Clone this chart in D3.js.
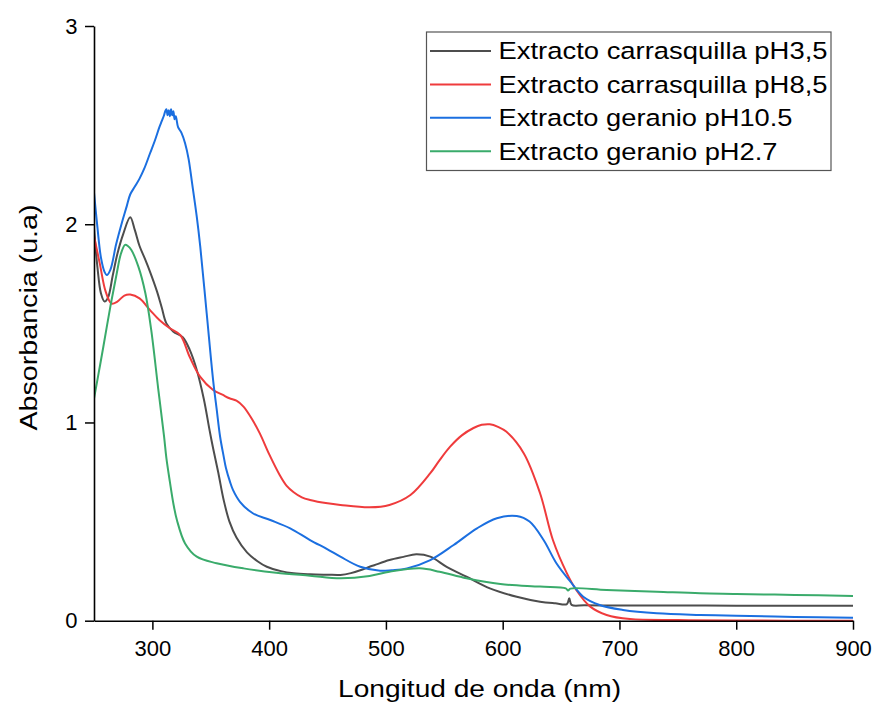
<!DOCTYPE html>
<html>
<head>
<meta charset="utf-8">
<script src="https://cdn.jsdelivr.net/npm/d3@7"></script>
<style>
  html, body { margin: 0; padding: 0; background: #fff; }
  svg { display: block; }
  text { font-family: "Liberation Sans", Arial, sans-serif; fill: #000; }
</style>
</head>
<body>
<svg id="chart" width="876" height="702"></svg>
<script>
// ---------- data ----------
const seriesNames = [
  "Extracto carrasquilla pH3,5",
  "Extracto carrasquilla pH8,5",
  "Extracto geranio pH10.5",
  "Extracto geranio pH2.7"
];
const seriesColors = ["#4d4d4d", "#ef3b3c", "#1b6fe0", "#3aab6b"];

const carr35X = [250,253,256,259,262,266,270,275,281,285,289,294,298,304,308,312,318,326,332,338,344,349,352,356.5,361,366,372,381,390,398,410,421,435,450,461,470,480,486,490,503,515,526,538,552,569,589,612,632,645,655,657,659,670,700,750,800,850,900];
const carr35Y = [1.98,1.78,1.65,1.61,1.63,1.74,1.85,1.95,2.035,1.97,1.89,1.82,1.76,1.66,1.58,1.50,1.458,1.43,1.366,1.265,1.12,0.96,0.87,0.745,0.61,0.50,0.42,0.345,0.30,0.272,0.25,0.239,0.234,0.232,0.231,0.24,0.258,0.272,0.28,0.306,0.322,0.335,0.323,0.272,0.222,0.163,0.121,0.096,0.088,0.084,0.113,0.08,0.078,0.077,0.077,0.076,0.076,0.076];

const carr85X = [250,255,260,265,270,276,281,289,298,306,315,324,332,341,352,360,366,372,378,385,392,400,409,415,421,428,435,450,461,486,503,521,538,546,555,565,575,582,589,596,603,618,632,643,655,663,675,689,709,750,800,900];
const carr85Y = [1.94,1.80,1.66,1.60,1.61,1.64,1.645,1.626,1.567,1.517,1.475,1.44,1.33,1.23,1.164,1.14,1.122,1.11,1.08,1.02,0.945,0.84,0.735,0.68,0.648,0.622,0.609,0.592,0.584,0.572,0.584,0.634,0.744,0.81,0.878,0.935,0.972,0.988,0.991,0.978,0.954,0.845,0.643,0.407,0.239,0.155,0.071,0.029,0.008,0.003,0.001,0.0];

const ger105X = [250,253,256,259,261,264,269,274,278,281,285,289,293,298,302,306,308,310,311,312,313,314,315,316,317,318,319,320,322,325,328,331,334,338,341,346.5,352,355,358,361,363,366.5,369,375,386,401,418,435,450,461,478,495,505,518,538,558,578,595,612,623,635,646,658,669,683,703,732,769,800,850,900];
const ger105Y = [2.16,1.98,1.83,1.76,1.744,1.77,1.90,2.01,2.09,2.15,2.19,2.23,2.28,2.358,2.42,2.49,2.52,2.55,2.57,2.58,2.55,2.575,2.545,2.58,2.55,2.57,2.53,2.545,2.49,2.46,2.409,2.33,2.207,2.038,1.887,1.551,1.214,1.07,0.928,0.83,0.77,0.70,0.66,0.60,0.542,0.508,0.466,0.407,0.36,0.323,0.272,0.252,0.255,0.264,0.306,0.382,0.466,0.517,0.528,0.50,0.407,0.29,0.197,0.121,0.079,0.054,0.037,0.029,0.025,0.019,0.015];

const ger27X = [250,254,258,264,269.5,273,276.6,279,282,288,294,299,305,310,312,315,318,321,328,338,355,378,406,435,461,486,503,529,546,569,598,632,654,656,658,689,732,769,800,850,900];
const ger27Y = [1.12,1.25,1.382,1.584,1.753,1.85,1.896,1.89,1.87,1.786,1.652,1.467,1.17,0.93,0.82,0.70,0.59,0.508,0.39,0.323,0.29,0.264,0.242,0.227,0.214,0.2255,0.247,0.264,0.247,0.214,0.185,0.172,0.163,0.152,0.162,0.155,0.146,0.138,0.135,0.13,0.125];

const xMajorTicks = [300,400,500,600,700,800,900];
const xMinorTicks = [250,350,450,550,650,750,850];
const yMajorTicks = [0,1,2,3];
const yMinorTicks = [0.5,1.5,2.5];
const xTitle = "Longitud de onda (nm)";
const yTitle = "Absorbancia (u.a)";

// ---------- chart ----------
const svg = d3.select("#chart");
const x = d3.scaleLinear().domain([250, 900]).range([94, 853]);
const y = d3.scaleLinear().domain([0, 3]).range([620.7, 26]);

svg.append("defs").append("clipPath").attr("id", "plotclip")
  .append("rect").attr("x", 94).attr("y", 20).attr("width", 760).attr("height", 601);

const series = [
  {xs: carr35X, ys: carr35Y},
  {xs: carr85X, ys: carr85Y},
  {xs: ger105X, ys: ger105Y},
  {xs: ger27X, ys: ger27Y}
];

const line = d3.line()
  .x(d => x(d[0]))
  .y(d => y(d[1]))
  .curve(d3.curveCatmullRom.alpha(0.5));

const plot = svg.append("g").attr("clip-path", "url(#plotclip)");
series.forEach((s, i) => {
  const pts = s.xs.map((v, k) => [v, s.ys[k]]);
  plot.append("path")
    .datum(pts)
    .attr("fill", "none")
    .attr("stroke", seriesColors[i])
    .attr("stroke-width", 2)
    .attr("stroke-linejoin", "round")
    .attr("d", line);
});

// axes
const xAxisG = svg.append("g").attr("transform", "translate(0,620.7)");
xAxisG.call(d3.axisBottom(x).tickValues(xMinorTicks).tickSize(5).tickSizeOuter(0).tickFormat(""));
xAxisG.call(d3.axisBottom(x).tickValues(xMajorTicks).tickSize(9).tickPadding(10.3).tickSizeOuter(0).tickFormat(d3.format("d")));

const yAxisG = svg.append("g").attr("transform", "translate(94,0)");
yAxisG.call(d3.axisLeft(y).tickValues(yMinorTicks).tickSize(5).tickSizeOuter(0).tickFormat(""));
yAxisG.call(d3.axisLeft(y).tickValues(yMajorTicks).tickSize(9).tickPadding(7.5).tickSizeOuter(0).tickFormat(d3.format("d")));

svg.selectAll(".domain").attr("stroke", "#000").attr("stroke-width", 1.6);
svg.selectAll(".tick line").attr("stroke", "#000").attr("stroke-width", 1.5);
svg.selectAll(".tick text")
  .attr("font-family", "Liberation Sans, Arial, sans-serif")
  .attr("font-size", 22)
  .attr("fill", "#000");

// axis titles
svg.append("text")
  .attr("x", 338).attr("y", 696.5)
  .attr("font-size", 23.5)
  .attr("textLength", 283).attr("lengthAdjust", "spacingAndGlyphs")
  .text(xTitle);

svg.append("text")
  .attr("transform", "translate(36.5,317.5) rotate(-90)")
  .attr("x", -113).attr("y", 0)
  .attr("font-size", 23.5)
  .attr("textLength", 226).attr("lengthAdjust", "spacingAndGlyphs")
  .text(yTitle);

// legend
const legend = svg.append("g");
legend.append("rect")
  .attr("x", 426.5).attr("y", 32).attr("width", 404.5).attr("height", 138.5)
  .attr("fill", "#fff").attr("stroke", "#555").attr("stroke-width", 1.2);
const legendWidths = [329, 329, 294, 279];
seriesNames.forEach((name, i) => {
  const ly = 51 + i * 33.4;
  legend.append("line")
    .attr("x1", 430).attr("x2", 491).attr("y1", ly).attr("y2", ly)
    .attr("stroke", seriesColors[i]).attr("stroke-width", 2);
  legend.append("text")
    .attr("x", 498.5).attr("y", ly + 8.4)
    .attr("font-size", 24.5)
    .attr("textLength", legendWidths[i]).attr("lengthAdjust", "spacingAndGlyphs")
    .text(name);
});
</script>
</body>
</html>
